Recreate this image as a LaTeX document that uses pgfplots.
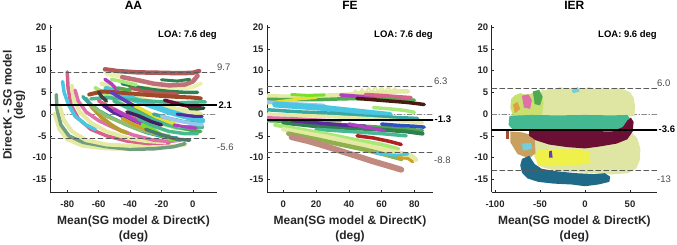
\documentclass[border=0pt]{standalone}
\usepackage{fontspec}
\setmainfont{Liberation Sans}
\usepackage{pgfplots}
\pgfplotsset{compat=1.18}
\definecolor{axcol}{HTML}{262626}
\definecolor{lblgray}{HTML}{4A4A4A}
\definecolor{dashgray}{HTML}{5A5A5A}
\definecolor{zerogray}{HTML}{8A8A8A}
\definecolor{cPaleY}{HTML}{E4EAA2}
\definecolor{cPaleY2}{HTML}{EEF0B0}
\definecolor{cSage}{HTML}{6F9F7F}
\definecolor{cSage2}{HTML}{8FBF6F}
\definecolor{cPink}{HTML}{D8608A}
\definecolor{cPink2}{HTML}{E070A8}
\definecolor{cCyan}{HTML}{48C6E2}
\definecolor{cBrown}{HTML}{A04828}
\definecolor{cBrownRed}{HTML}{B05A58}
\definecolor{cDarkGreen}{HTML}{2F7F4F}
\definecolor{cDarkGreen2}{HTML}{205030}
\definecolor{cMagenta}{HTML}{B040C0}
\definecolor{cYellow}{HTML}{E8E030}
\definecolor{cOlive}{HTML}{B89A30}
\definecolor{cGold}{HTML}{D0A020}
\definecolor{cLightGreen}{HTML}{A8E878}
\definecolor{cRosy}{HTML}{C07078}
\definecolor{cRosy2}{HTML}{C08A80}
\definecolor{cPurple}{HTML}{5A2A9A}
\definecolor{cPurple2}{HTML}{6040C0}
\definecolor{cDarkPurple}{HTML}{402060}
\definecolor{cTeal}{HTML}{3AA8A0}
\definecolor{cLime}{HTML}{78E028}
\definecolor{cLightBlue}{HTML}{98C8F0}
\definecolor{cGreen}{HTML}{50A850}
\definecolor{cSeaGreen}{HTML}{48B890}
\definecolor{cGrayGreen}{HTML}{4A7A6A}
\definecolor{cDarkGray}{HTML}{404040}
\definecolor{cMaroon}{HTML}{6B0F35}
\definecolor{cDarkBrown}{HTML}{4A1A10}
\definecolor{cBlue}{HTML}{3050C0}
\definecolor{cRed}{HTML}{B02020}
\definecolor{cOliveGreen}{HTML}{90B050}
\definecolor{cBlob}{HTML}{DFE6A4}
\definecolor{cBlobG}{HTML}{C8E070}
\definecolor{cTealBand}{HTML}{44B890}
\definecolor{cTan}{HTML}{C8A060}
\definecolor{cNavyTeal}{HTML}{1F6A88}
\definecolor{cOrange}{HTML}{E0A040}
\definecolor{cStrip}{HTML}{F0F04A}
\definecolor{cLeftBrown}{HTML}{A05030}
\definecolor{cLCyan}{HTML}{70D0E0}
\tikzset{
  lbl/.style={font=\fontsize{9.5}{10}\selectfont, text=lblgray, inner sep=0pt},
  lblb/.style={font=\fontsize{9.5}{10}\selectfont\bfseries, text=black, inner sep=0pt},
  loa/.style={anchor=base east, font=\fontsize{9.5}{10}\selectfont\bfseries, inner sep=0pt},
  ttl/.style={anchor=base, font=\fontsize{12}{13}\selectfont\bfseries, inner sep=0pt},
  xlab/.style={anchor=north, align=center, font=\fontsize{12}{15.5}\selectfont\bfseries, inner sep=0pt, text=axcol},
}
\pgfplotsset{
  ba/.style={
    scale only axis, height=167.3pt,
    ymin=-18, ymax=20.5, ytick={-15,-10,-5,0,5,10,15,20},
    axis x line*=bottom, axis y line*=left,
    axis line style={line width=0.8pt, color=axcol},
    tick align=inside, major tick length=2.5pt,
    tick style={color=axcol, line width=0.6pt},
    tick label style={font=\fontsize{9.5}{10}\selectfont\bfseries, text=axcol},
    xticklabel style={yshift=-5.5pt},
    /pgf/number format/assume math mode=true,
    clip mode=individual,
    every axis plot/.append style={line join=round, line cap=round},
  },
}
\begin{document}
\begin{tikzpicture}
\path (0pt,0pt) rectangle (677pt,-244pt);
% ---------------- AA ----------------
\begin{axis}[ba, at={(50pt,-192.3pt)}, anchor=south west, width=167pt,
  xmin=-91, xmax=15.4, xtick={-80,-60,-40,-20,0}]
\addplot[zerogray, line width=0.7pt, dash pattern=on 5pt off 2pt on 1pt off 2pt] coordinates {(-91,0) (15.4,0)};
\addplot[draw=cPaleY, line width=4pt] coordinates {(-88,0) (-85,-3.5) (-80,-5.8) (-70,-7.3) (-55,-7.9) (-40,-8) (-25,-7.7) (-10,-7.3) (-5,-7)};
\addplot[draw=cSage, line width=3.5pt] coordinates {(-87,4.5) (-86.5,1) (-84,-2.5) (-79,-5) (-70,-6.5) (-55,-7.5) (-40,-8.1) (-25,-8) (-12,-7.5) (-5,-6.8)};
\addplot[draw=cPaleY, line width=4pt] coordinates {(-85,2) (-82,-1.5) (-77,-4) (-68,-6) (-55,-7) (-40,-7.3) (-28,-7)};
\addplot[draw=cPink, line width=3.5pt] coordinates {(-80,9.7) (-79.5,6) (-77.5,2) (-73,-1) (-65,-3.5) (-55,-5) (-42,-6.2) (-28,-6.8) (-15,-6.6)};
\addplot[draw=cCyan, line width=3.5pt] coordinates {(-83,7.5) (-82,5) (-79,2) (-75,-0.5) (-68,-2.5) (-62,-3.5)};
\addplot[draw=cPaleY, line width=4pt] coordinates {(-77,6.5) (-76,3.5) (-72,0.5) (-65,-2) (-55,-4) (-42,-5.5) (-30,-6.2) (-18,-6.5)};
\addplot[draw=cPink2, line width=3.5pt] coordinates {(-75,5.5) (-73,3) (-68,0.5) (-60,-1.5) (-50,-3.2) (-38,-4.8) (-25,-6) (-15,-6.3) (-8,-6)};
\addplot[draw=cOlive, line width=4pt] coordinates {(-68,3.5) (-64,1.5) (-58,-0.8) (-52,-2.5) (-46,-3.8) (-42,-4.3)};
\addplot[draw=cTeal, line width=3.5pt] coordinates {(-70,4) (-66,2.5) (-60,0.8) (-52,-0.8) (-42,-2.5) (-30,-4.2) (-18,-5.3) (-10,-5.5)};
\addplot[draw=cSage2, line width=3.5pt] coordinates {(-65,2) (-55,-0.5) (-45,-2) (-35,-3.5) (-25,-4.5) (-15,-5)};
\addplot[draw=cLightGreen, line width=4pt] coordinates {(-62,6) (-55,4.5) (-48,3) (-40,1.2) (-30,-0.8) (-20,-2.2) (-10,-3.2) (0,-3.5)};
\addplot[draw=cPink, line width=3.5pt] coordinates {(-60,3) (-52,1.5) (-44,0) (-36,-1.2) (-28,-2)};
\addplot[draw=cPurple, line width=3.5pt] coordinates {(-57,2) (-51,0.5) (-45,-0.5) (-38,-1.5) (-32,-2.3)};
\addplot[draw=cMagenta, line width=3.5pt] coordinates {(-50,1) (-42,-0.5) (-35,-1.8) (-28,-2.6)};
\addplot[draw=cGold, line width=3.5pt] coordinates {(-45,-1) (-38,-2.3) (-30,-3.5) (-22,-4.3)};
\addplot[draw=cLime, line width=4pt] coordinates {(-32,-2.5) (-26,-3.5) (-20,-4.8) (-14,-5.8) (-10,-6)};
\addplot[draw=cGreen, line width=3.5pt] coordinates {(-40,2) (-30,0.3) (-20,-1.5) (-10,-3) (0,-3.8) (5,-4)};
\addplot[draw=cSeaGreen, line width=4pt] coordinates {(-50,3) (-40,1.2) (-30,-0.5) (-20,-2) (-10,-3) (0,-3) (6,-3)};
\addplot[draw=cSeaGreen, line width=3.5pt] coordinates {(-35,-1) (-25,-2.8) (-15,-4) (-5,-4.5) (3,-4.5)};
\addplot[draw=cYellow, line width=3.5pt] coordinates {(-48,4) (-40,2.5) (-32,1) (-24,-0.5) (-15,-1.8) (-8,-2.8)};
\addplot[draw=cDarkPurple, line width=3.5pt] coordinates {(-42,0.5) (-34,-0.5) (-26,-1.8) (-20,-2.5)};
\addplot[draw=cTeal, line width=3.5pt] coordinates {(-25,0) (-15,-1) (-5,-1.8) (5,-2)};
\addplot[draw=cPaleY, line width=4.5pt] coordinates {(-58,7) (-50,6) (-40,4.5) (-30,3.2) (-20,2) (-8,1) (0,0.5) (5,0)};
\addplot[draw=cCyan, line width=6pt] coordinates {(-55,5.8) (-46,4.5) (-36,3.2) (-25,1.8) (-15,0.5) (-5,-0.5) (3,-1.2) (6,-1.5)};
\addplot[draw=cLightBlue, line width=3.5pt] coordinates {(-20,-0.5) (-10,-1.5) (0,-2.2) (6,-2.5)};
\addplot[draw=cPurple, line width=3pt] coordinates {(-10,0) (0,-0.5) (6,-0.5)};
\addplot[draw=cMagenta, line width=3pt] coordinates {(-12,-2.5) (-4,-3) (2,-3.2)};
\addplot[draw=cGrayGreen, line width=3.5pt] coordinates {(-30,-3.5) (-20,-4.8) (-10,-5.8) (-2,-6)};
\addplot[draw=cBrownRed, line width=4.5pt] coordinates {(-56,10.3) (-48,9.9) (-35,9.6) (-20,9.5) (-8,9.4) (0,9.5) (4,9.9)};
\addplot[draw=cPaleY2, line width=4.5pt] coordinates {(-55,9.3) (-48,8.8) (-40,8.1) (-32,7.5)};
\addplot[draw=cPaleY2, line width=4pt] coordinates {(-30,6) (-20,5.8) (-10,5.8) (0,6.2) (5,7)};
\addplot[draw=cRosy, line width=4.5pt] coordinates {(-45,8.5) (-35,7.8) (-25,7) (-15,6.6) (-5,6.8) (0,7.5) (3,8.8)};
\addplot[draw=cDarkGreen, line width=3.5pt] coordinates {(-45,7) (-35,6.2) (-25,5.6) (-15,5.2) (-5,5) (3,5)};
\addplot[draw=cDarkGreen, line width=3pt] coordinates {(-20,7.9) (-10,7.6) (-2,8)};
\addplot[draw=cLightGreen, line width=3.5pt] coordinates {(-52,8) (-44,7.4) (-36,6.7)};
\addplot[draw=cBrownRed, line width=3.5pt] coordinates {(-40,6) (-30,5.2) (-20,4.8) (-10,4.6)};
\addplot[draw=cBrown, line width=4pt] coordinates {(-66,4.5) (-58,5.2) (-48,5) (-38,4.7) (-25,4.3) (-12,4) (0,3.8) (5,3.6)};
\addplot[draw=cSeaGreen, line width=3.5pt] coordinates {(-65,3.5) (-55,3.8) (-45,3.5) (-35,3.2) (-20,2.8) (-8,2.6) (5,2.8) (8,2.8)};
\addplot[draw=cDarkGray, line width=3.5pt] coordinates {(-60,5) (-58,4) (-55,3)};
\addplot[draw=cMaroon, line width=3.5pt] coordinates {(-18,3.2) (-8,2.2) (0,1.6) (5,1.5)};
\addplot[draw=cDarkGreen2, line width=3.5pt] coordinates {(-2,1.3) (3,1.2) (7,1.4)};
\addplot[draw=cMagenta, line width=3.5pt] coordinates {(-56,8) (-52,7) (-48,5.5)};
\addplot[draw=cGreen, line width=3.5pt] coordinates {(-48,6) (-40,5.5)};
\addplot[draw=cPurple2, line width=3.5pt] coordinates {(-52,5) (-45,3.5) (-38,2)};
\addplot[dashgray, line width=0.8pt, dash pattern=on 5pt off 3pt] coordinates {(-91,9.7) (15.4,9.7)};
\addplot[dashgray, line width=0.8pt, dash pattern=on 5pt off 3pt] coordinates {(-91,-5.6) (15.4,-5.6)};
\addplot[black, line width=1.8pt] coordinates {(-91,2.1) (15.4,2.1)};
\node[loa] at (axis cs:15.4,17.67) {LOA: 7.6 deg};
\node[lbl, anchor=base west, yshift=1.5pt] at (axis cs:15.4,9.7) {9.7};
\node[lblb, anchor=west, xshift=1.5pt] at (axis cs:15.4,2.1) {2.1};
\node[lbl, anchor=north west, yshift=-5pt] at (axis cs:15.4,-5.6) {-5.6};
\node[ttl] at (axis description cs:0.5,1.0897) {AA};
\node[xlab] at (axis description cs:0.5,-0.139) {Mean(SG model \& DirectK)\\(deg)};
\node[rotate=90, anchor=center, align=center, font=\fontsize{12}{11}\selectfont\bfseries, inner sep=0pt, text=axcol] at (axis description cs:-0.215,0.52) {DirectK - SG model\\(deg)};
\end{axis}
% ---------------- FE ----------------
\begin{axis}[ba, at={(267pt,-192.3pt)}, anchor=south west, width=166pt,
  xmin=-10, xmax=91.4, xtick={0,20,40,60,80}]
\addplot[zerogray, line width=0.7pt, dash pattern=on 5pt off 2pt on 1pt off 2pt] coordinates {(-10,0) (91.4,0)};
\addplot[draw=cPaleY, line width=4.5pt] coordinates {(-10,4.2) (0,4) (10,4) (20,4.2) (30,4.3) (40,4.5) (50,4.8) (60,5) (70,5.2) (76,5.2)};
\addplot[draw=cPaleY, line width=1.8pt] coordinates {(42,4.5) (44,5.5) (46,4.6) (48,5.8) (50,4.8) (52,6.1) (54,5) (56,6.3) (58,5.2) (60,6.2) (62,5) (64,6.3) (66,5.2) (68,6) (70,5) (72,5.6) (74,4.8)};
\addplot[draw=cGreen, line width=3.5pt] coordinates {(-10,3.4) (5,3.3) (20,3.3) (35,3.5) (50,3.6) (65,3.5) (80,3.2)};
\addplot[draw=cYellow, line width=3pt] coordinates {(-10,2.5) (0,3) (10,3.5) (20,3.8)};
\addplot[draw=cLime, line width=3pt] coordinates {(5,4.5) (15,4.3) (25,4.4)};
\addplot[draw=cMagenta, line width=3.5pt] coordinates {(35,4.4) (42,4.2) (50,4) (56,3.9)};
\addplot[draw=cPink, line width=3.5pt] coordinates {(50,4.5) (60,4.3) (70,4) (78,3.8)};
\addplot[draw=cDarkBrown, line width=3.5pt] coordinates {(45,3.6) (55,3.3) (65,3) (75,2.7) (82,2.4) (86,2.2)};
\addplot[draw=cLightGreen, line width=3.5pt] coordinates {(55,1.5) (65,1.2) (75,0.8) (80,0.4)};
\addplot[draw=cLightBlue, line width=3.5pt] coordinates {(-10,2.8) (0,2.5) (10,2.3) (25,2)};
\addplot[draw=cCyan, line width=6pt] coordinates {(-5,2.2) (10,1.8) (25,1.4) (40,0.8) (55,0.2) (65,-0.2)};
\addplot[draw=cTeal, line width=3.5pt] coordinates {(-10,1) (10,0.5) (30,0.2) (50,-0.5) (70,-0.8) (82,-1)};
\addplot[draw=cPaleY, line width=3.5pt] coordinates {(-10,0) (10,-0.3) (30,-0.6) (50,-1) (70,-1.5) (85,-2)};
\addplot[draw=cPink2, line width=3pt] coordinates {(-10,-0.8) (5,-1) (20,-1.3) (35,-1.6)};
\addplot[draw=cGreen, line width=3.5pt] coordinates {(-10,-1.5) (10,-1.8) (30,-2.3) (50,-2.8) (70,-3.3) (85,-3.8)};
\addplot[draw=cDarkGreen, line width=4pt] coordinates {(0,-2) (20,-2.8) (40,-3.2) (60,-3.6) (75,-4) (85,-4.5)};
\addplot[draw=cPurple, line width=3.5pt] coordinates {(5,-1.5) (20,-2) (35,-2.5) (50,-2.8)};
\addplot[draw=cMagenta, line width=3.5pt] coordinates {(40,-2.3) (50,-3) (58,-3.5) (62,-4)};
\addplot[draw=cBlue, line width=3.5pt] coordinates {(60,-2.3) (70,-2.6) (80,-2.8) (86,-3)};
\addplot[draw=cSeaGreen, line width=3.5pt] coordinates {(20,-3.5) (40,-4) (60,-4.5) (75,-5)};
\addplot[draw=cRed, line width=3.5pt] coordinates {(45,-5) (55,-5.5) (65,-6.3) (72,-7)};
\addplot[draw=cLightGreen, line width=4pt] coordinates {(-5,-2.5) (10,-3.5) (25,-4.5) (45,-6) (60,-7) (70,-8)};
\addplot[draw=cPaleY, line width=4.5pt] coordinates {(0,-3.5) (15,-4.5) (30,-5.5) (45,-6.8) (60,-8) (72,-9) (78,-9.5) (81,-10.5)};
\addplot[draw=cOliveGreen, line width=4.5pt] coordinates {(3,-4.5) (20,-5.8) (35,-7) (50,-8.2) (62,-9.3) (72,-10.3)};
\addplot[draw=cRosy2, line width=6pt] coordinates {(5,-5.3) (15,-6.2) (25,-7.3) (35,-8.5) (45,-9.7) (55,-10.9) (65,-12) (72,-12.8)};
\addplot[draw=cCyan, line width=3pt] coordinates {(55,-8.8) (62,-9.3) (70,-9.5) (76,-9.2)};
\addplot[draw=cGold, line width=3pt] coordinates {(70,-10) (76,-10.2) (79,-11)};
\addplot[dashgray, line width=0.8pt, dash pattern=on 5pt off 3pt] coordinates {(-10,6.3) (91.4,6.3)};
\addplot[dashgray, line width=0.8pt, dash pattern=on 5pt off 3pt] coordinates {(-10,-8.8) (91.4,-8.8)};
\addplot[black, line width=1.8pt] coordinates {(-10,-1.3) (91.4,-1.3)};
\node[loa] at (axis cs:91.4,17.67) {LOA: 7.6 deg};
\node[lbl, anchor=base west, xshift=1pt, yshift=2pt] at (axis cs:91.4,6.3) {6.3};
\node[lblb, anchor=west, xshift=1.5pt] at (axis cs:91.4,-1.3) {-1.3};
\node[lbl, anchor=north west, xshift=1pt, yshift=-4pt] at (axis cs:91.4,-8.8) {-8.8};
\node[ttl] at (axis description cs:0.5,1.0897) {FE};
\node[xlab] at (axis description cs:0.5,-0.139) {Mean(SG model \& DirectK)\\(deg)};
\end{axis}
% ---------------- IER ----------------
\begin{axis}[ba, at={(491.7pt,-192.3pt)}, anchor=south west, width=165.3pt,
  xmin=-103.7, xmax=80, xtick={-100,-50,0,50}]
\addplot[zerogray, line width=0.7pt, dash pattern=on 5pt off 2pt on 1pt off 2pt] coordinates {(-103.7,0) (80,0)};
\addplot[fill=cBlob, draw=none] coordinates {(-50,4) (-48,5.8) (-44,5.4) (-40,6.1) (-34,5.7) (-28,6.2) (-20,5.8) (-12,6.1) (-4,5.7) (4,6.2) (12,5.8) (20,6.1) (28,5.7) (36,6) (44,5.6) (50,5) (54,3.8) (55.5,2) (55,-0.5) (20,-0.6) (-20,-0.6) (-48,-0.5) (-51,1.5)} -- cycle;
\addplot[fill=cBlobG, draw=none] coordinates {(-82,3.5) (-78,4.3) (-72,4.8) (-64,4.4) (-56,5) (-48,4.6) (-46,2.5) (-48,-0.5) (-66,-0.8) (-80,-0.5) (-83,1.5)} -- cycle;
\addplot[fill=cPink2, draw=none] coordinates {(-70,4.2) (-63,4.6) (-59,3.2) (-61,1.2) (-68,1.5)} -- cycle;
\addplot[fill=cGreen, draw=none] coordinates {(-58,5.2) (-51,5.6) (-47,4) (-50,2) (-56,2.3)} -- cycle;
\addplot[fill=cOrange, draw=none] coordinates {(-80,2.2) (-75,2.8) (-72,1.2) (-78,0.2)} -- cycle;
\addplot[fill=cLCyan, draw=none] coordinates {(-15,5.5) (-8,6.2) (-6,5.2) (-13,4.8)} -- cycle;
\addplot[fill=cBlob, draw=none] coordinates {(-56,-4.6) (-30,-4.3) (0,-4.3) (30,-4.2) (52,-4.3) (58,-5.5) (61.5,-8) (61,-10.5) (57,-12.5) (48,-13.6) (30,-13.9) (10,-13.6) (-10,-13.4) (-30,-13.2) (-48,-12.2) (-56,-10) (-58,-7)} -- cycle;
\addplot[fill=cStrip, draw=none] coordinates {(-53,-8.2) (-30,-8) (-10,-8.1) (5,-8.6) (6,-11.2) (-10,-11.8) (-30,-12) (-52,-12) (-55,-10)} -- cycle;
\addplot[fill=cTan, draw=none] coordinates {(-83,-4) (-70,-4.2) (-56,-5) (-55,-9) (-62,-10.2) (-75,-9.2) (-83,-6.5)} -- cycle;
\addplot[fill=cLCyan, draw=none] coordinates {(-70,-6.8) (-60,-6.6) (-59,-8) (-69,-8.4)} -- cycle;
\addplot[fill=cNavyTeal, draw=none] coordinates {(-70,-10.3) (-62,-9.6) (-56,-11.5) (-48,-12.6) (-30,-13.2) (-10,-13.6) (10,-13.8) (22,-13.6) (28,-14.4) (27,-15.6) (15,-16.2) (0,-16.6) (-15,-16.2) (-35,-16) (-52,-15.6) (-64,-14.8) (-70,-13.5) (-72,-11.8)} -- cycle;
\addplot[fill=cTealBand, draw=none] coordinates {(-84,-0.4) (-60,-0.2) (-30,-0.3) (0,-0.2) (30,-0.3) (47,-0.2) (50,-1) (50,-3.4) (30,-3.6) (0,-3.7) (-30,-3.8) (-60,-3.7) (-80,-3.6) (-85,-2.5)} -- cycle;
\addplot[fill=cMaroon, draw=none] coordinates {(-62,-3.7) (-45,-3.5) (-30,-3.5) (-10,-3.8) (10,-3.9) (30,-4) (42,-3) (47,-1.5) (51,-0.8) (54,-1.8) (53,-4) (47,-5.8) (35,-6.8) (15,-7.5) (0,-7.9) (-20,-7.6) (-40,-7) (-55,-6) (-62,-5)} -- cycle;
\addplot[fill=cLeftBrown, draw=none] coordinates {(-88,-4) (-84,-4) (-84,-5.8) (-88,-5.8)} -- cycle;
\addplot[fill=cPurple2, draw=none] coordinates {(-40,-8.6) (-37,-8.4) (-36,-10) (-40,-10)} -- cycle;
\addplot[dashgray, line width=0.8pt, dash pattern=on 5pt off 3pt] coordinates {(-103.7,6) (80,6)};
\addplot[dashgray, line width=0.8pt, dash pattern=on 5pt off 3pt] coordinates {(-103.7,-13) (80,-13)};
\addplot[black, line width=1.8pt] coordinates {(-103.7,-3.6) (80,-3.6)};
\node[loa] at (axis cs:80,17.67) {LOA: 9.6 deg};
\node[lbl, anchor=base west, yshift=2pt] at (axis cs:80,6) {6.0};
\node[lblb, anchor=west, xshift=1.5pt] at (axis cs:80,-3.6) {-3.6};
\node[lbl, anchor=north west, yshift=-5.5pt] at (axis cs:80,-13) {-13};
\node[ttl] at (axis description cs:0.5,1.0897) {IER};
\node[xlab] at (axis description cs:0.5,-0.139) {Mean(SG model \& DirectK)\\(deg)};
\end{axis}
\end{tikzpicture}
\end{document}
